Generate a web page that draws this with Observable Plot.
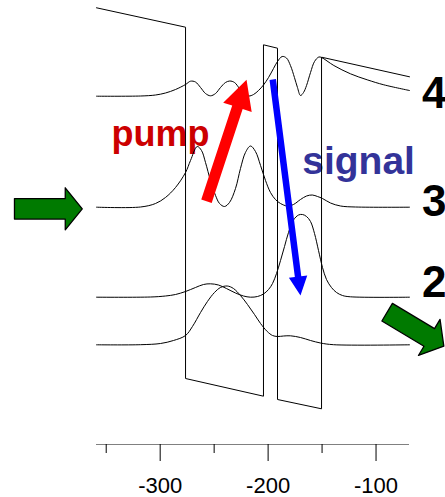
<!DOCTYPE html>
<html>
<head>
<meta charset="utf-8">
<script src="https://cdn.jsdelivr.net/npm/d3@7"></script>
<script src="https://cdn.jsdelivr.net/npm/@observablehq/plot@0.6"></script>
<style>
html, body { margin: 0; padding: 0; background: #fff; overflow: hidden; }
#chart { width: 445px; height: 497px; overflow: hidden; }
</style>
</head>
<body>
<div id="chart"></div>
<script>
// ---------------- data ----------------
// conduction-band profile (position, energy)
const bandX = [-359, -276.5, -276.5, -204.3, -204.3, -191.3, -191.3, -150.5, -150.5, -69];
const bandY = [436.7, 417.3, 66, 48.3, 399.7, 396.3, 45, 35.7, 387.3, 367.7];

// wavefunctions (|psi|^2 drawn at their energy levels)
const wf4X = [-359, -318.2, -304.3, -295.1, -285.8, -276.5, -271.9, -267.3, -262.6, -258.0, -253.4, -248.7, -244.1, -239.5, -235.5, -231.1, -226.5, -221.9, -217.9, -213.5, -208.9, -204.3, -199.6, -195.0, -191.3, -187.0, -183.0, -179.3, -175.6, -172.8, -170.0, -167.2, -164.4, -160.7, -157.0, -153.0, -150.5, -139.1, -123.7, -108.2, -92.8, -69];
const wf4Y = [348.3, 348.5, 349.5, 351.5, 355, 360, 363.3, 362.5, 357, 351, 348.7, 351, 357, 362, 363.5, 362, 356, 350.5, 348.5, 350, 354, 359.5, 367, 376, 383, 388, 386.5, 379, 367, 357, 349, 352, 359, 372, 383, 387.5, 387, 379, 370.7, 364.7, 359.7, 354];

const wf3X = [-359, -318.2, -304.3, -295.1, -285.8, -276.5, -271.9, -265.7, -261.7, -258.0, -253.4, -248.7, -245.0, -240.4, -235.8, -230.2, -225.6, -221.0, -216.3, -211.7, -207.0, -202.4, -197.8, -193.2, -188.5, -182.3, -176.5, -170.0, -164.4, -159.1, -154.2, -149.6, -142.2, -132.9, -119.0, -69];
const wf3Y = [237.3, 237.5, 241, 247, 257, 272, 284, 298, 294, 282, 264, 249, 241, 238, 242, 256, 276, 292, 298.5, 293, 279, 264, 252, 245, 241, 238.5, 240, 245, 248.5, 249.5, 248, 246, 241.5, 238.5, 237.5, 237.3];

const wf2X = [-359, -309.0, -295.1, -285.8, -276.5, -267.3, -259.9, -253.4, -246.0, -238.6, -230.2, -222.8, -216.3, -209.8, -204.3, -199.6, -195.9, -192.2, -188.5, -184.8, -181.1, -176.5, -171.8, -168.1, -164.4, -160.7, -157.0, -153.3, -149.6, -145.9, -141.3, -136.6, -131.1, -123.7, -69];
const wf2Y = [147.3, 147.5, 148.5, 150, 153, 157, 160, 160.7, 159.5, 156, 151.5, 148.5, 147.3, 148, 150.5, 155, 161, 171, 184, 198, 212, 224.5, 229.5, 230, 228, 223, 211, 194, 177, 165, 157, 152, 149, 147.7, 147.3];

const wf1X = [-359, -318.2, -299.7, -287.7, -276.5, -270.1, -262.6, -256.2, -249.7, -244.1, -237.9, -232.1, -225.6, -219.1, -212.6, -207.0, -200.8, -195.9, -191.3, -185.7, -179.3, -170.0, -160.7, -151.5, -139.4, -69];
const wf1Y = [99.7, 99.8, 101, 104, 109, 118, 132, 143, 152, 157, 158.5, 156, 149, 140, 130, 121, 113, 109, 108, 108.5, 108.7, 107, 104, 101.5, 99.8, 99.7];

// level labels
const levelNames = ["4", "3", "2"];
const levelLabelX = [-57.5, -57.5, -57.5];
const levelLabelY = [336.7, 229, 147.3];

// transition labels
const transitionNames = ["pump", "signal"];
const transitionX = [-345, -168.4];
const transitionY = [299, 270.5];

// arrows: tail and tip (position, energy)
const pumpTail = [-257.1, 243.3], pumpTip = [-220.0, 364.7];
const signalTail = [-195.7, 365], signalTip = [-170.0, 149];
const inTail = [-435.0, 235.7], inTip = [-372.2, 235.7];
const outTail = [-89.7, 132.3], outTip = [-37.2, 98.3];

// axis ticks
const xTicks = [-300, -200, -100];
const xTickLabels = ["-300", "-200", "-100"];
const xMinorTicks = [-350, -250, -150];

// ---------------- build ----------------
const zip = (xs, ys) => xs.map((x, i) => ({x, y: ys[i]}));
const band = zip(bandX, bandY);
const wfs = [zip(wf1X, wf1Y), zip(wf2X, wf2Y), zip(wf3X, wf3Y), zip(wf4X, wf4Y)];
const levels = levelNames.map((t, i) => ({t, x: levelLabelX[i], y: levelLabelY[i]}));
const transitions = transitionNames.map((t, i) => ({t, x: transitionX[i], y: transitionY[i]}));
const tickLabels = xTicks.map((x, i) => ({x, t: xTickLabels[i]}));

const FONT = "'Liberation Sans', Arial, Helvetica, sans-serif";
const base = {
  width: 445,
  height: 497,
  marginLeft: 96,
  marginRight: 36,
  marginTop: 0,
  marginBottom: 53,
  x: {domain: [-359, -69], label: null},
  y: {domain: [0, 444], axis: null},
  style: {fontFamily: FONT, fontSize: "21px", background: "white", color: "black"}
};

// first pass to materialize scales
const probe = Plot.plot({...base, marks: [Plot.line(band, {x: "x", y: "y"})]});
const sxo = probe.scale("x"), syo = probe.scale("y");
const lin = s => d3.scaleLinear(s.domain, s.range);
const sx = lin(sxo), sy = lin(syo);

function arrowPolygon(tail, tip, shaftW, headW, headL) {
  const T = [sx(tail[0]), sy(tail[1])];
  const P = [sx(tip[0]), sy(tip[1])];
  const dx = P[0] - T[0], dy = P[1] - T[1], L = Math.hypot(dx, dy);
  const u = [dx / L, dy / L], n = [-u[1], u[0]];
  const B = [P[0] - headL * u[0], P[1] - headL * u[1]];
  const a = shaftW / 2, b = headW / 2;
  const pts = [
    [T[0] + a * n[0], T[1] + a * n[1]],
    [B[0] + a * n[0], B[1] + a * n[1]],
    [B[0] + b * n[0], B[1] + b * n[1]],
    P,
    [B[0] - b * n[0], B[1] - b * n[1]],
    [B[0] - a * n[0], B[1] - a * n[1]],
    [T[0] - a * n[0], T[1] - a * n[1]]
  ];
  return pts.map(([px, py]) => ({x: sx.invert(px), y: sy.invert(py)}));
}

const pumpPoly = arrowPolygon(pumpTail, pumpTip, 11, 30, 29);
const signalPoly = arrowPolygon(signalTail, signalTip, 6.5, 18.5, 19);
const inPoly = arrowPolygon(inTail, inTip, 20.5, 42, 17);
const outPoly = arrowPolygon(outTail, outTip, 20.5, 42, 17);

const chart = Plot.plot({
  ...base,
  marks: [
    Plot.ruleY([0], {stroke: "#808080", strokeWidth: 1.2}),
    Plot.axisX({ticks: xMinorTicks, tickSize: 9, tickFormat: () => "", stroke: "black", label: null}),
    Plot.axisX({ticks: xTicks, tickSize: 17, tickFormat: () => "", stroke: "black", label: null}),
    Plot.text(tickLabels, {x: "x", y: 0, text: "t", dy: 48, lineAnchor: "bottom", fontSize: 22, fill: "black"}),
    Plot.text(transitions.slice(0, 1), {x: "x", y: "y", text: "t", textAnchor: "start", lineAnchor: "bottom", fontSize: 36, fontWeight: "bold", fill: "#cc0000"}),
    Plot.text(transitions.slice(1), {x: "x", y: "y", text: "t", textAnchor: "start", lineAnchor: "bottom", fontSize: 39, fontWeight: "bold", fill: "#333399"}),
    Plot.line(band, {x: "x", y: "y", stroke: "black", strokeWidth: 1}),
    ...wfs.map(w => Plot.line(w, {x: "x", y: "y", stroke: "black", strokeWidth: 1, curve: "catmull-rom"})),
    Plot.line(pumpPoly, {x: "x", y: "y", fill: "#ff0000", stroke: "none", curve: "linear-closed"}),
    Plot.line(signalPoly, {x: "x", y: "y", fill: "#0000ff", stroke: "none", curve: "linear-closed"}),
    Plot.line(inPoly, {x: "x", y: "y", fill: "#007a00", stroke: "black", strokeWidth: 1.3, curve: "linear-closed"}),
    Plot.line(outPoly, {x: "x", y: "y", fill: "#007a00", stroke: "black", strokeWidth: 1.3, curve: "linear-closed"}),
    Plot.text(levels, {x: "x", y: "y", text: "t", textAnchor: "start", lineAnchor: "bottom", fontSize: 44, fontWeight: "bold", fill: "black"})
  ]
});
document.getElementById("chart").appendChild(chart);
</script>
</body>
</html>
